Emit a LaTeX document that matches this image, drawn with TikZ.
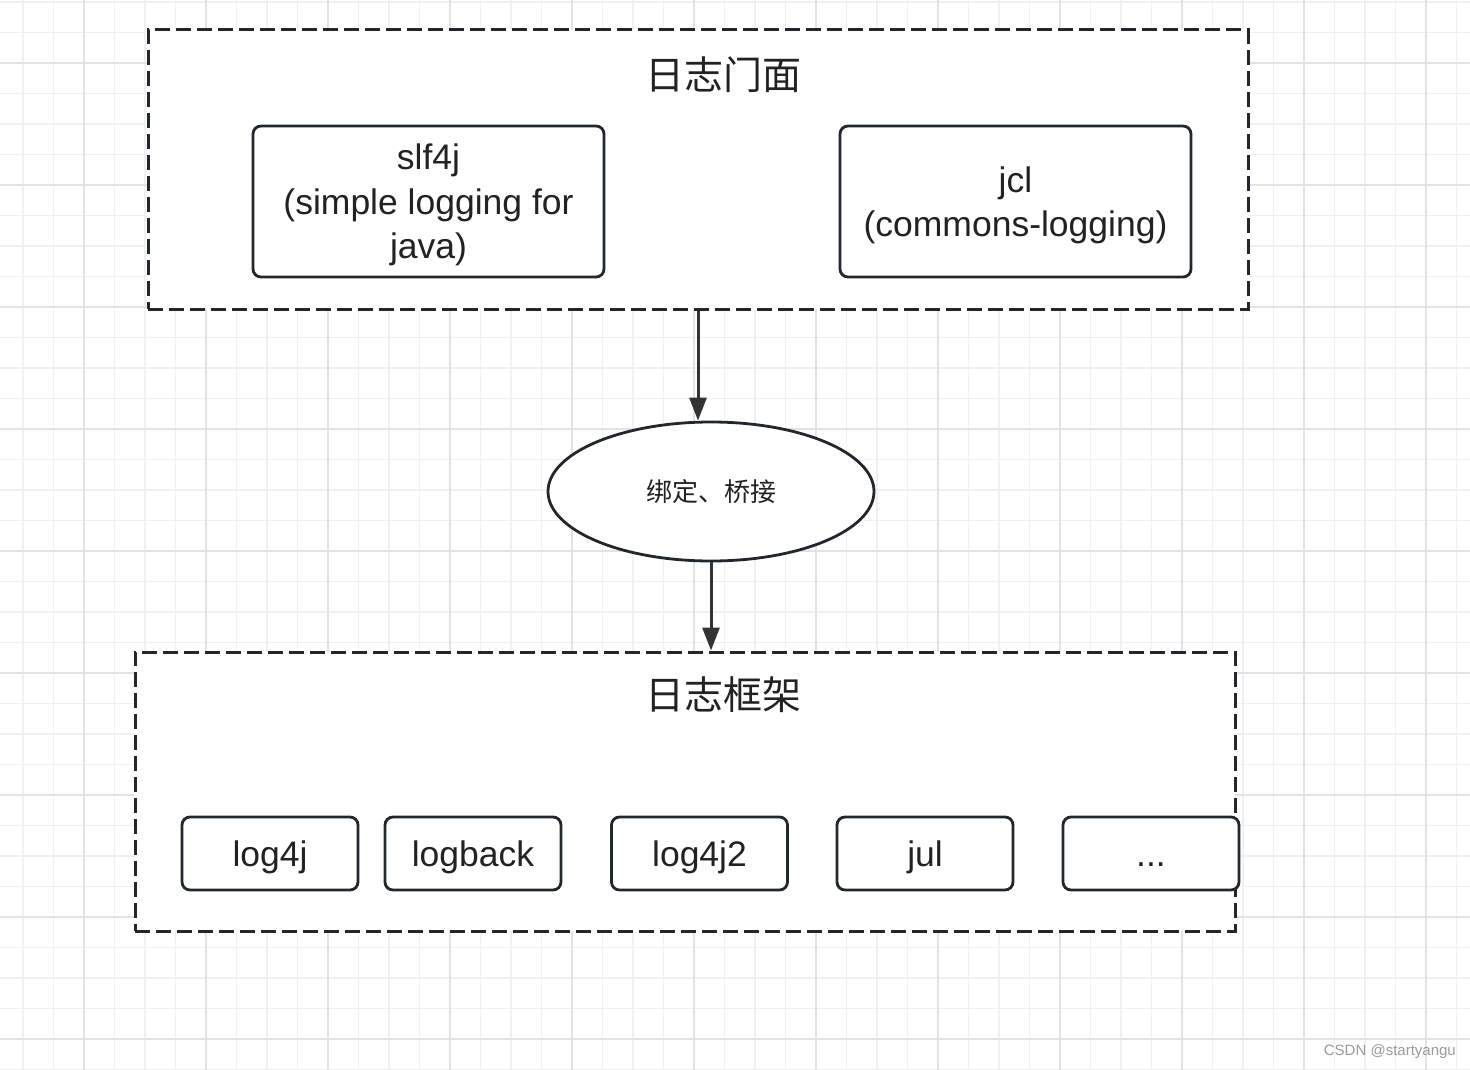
\documentclass[tikz,border=0pt]{standalone}
\usepackage{fontspec}
\setmainfont{Liberation Sans}
\newfontfamily\cjk{Noto Sans CJK SC}
\usetikzlibrary{arrows.meta,shapes.geometric}
\definecolor{minorgrid}{HTML}{F0F0F0}
\definecolor{majorgrid}{HTML}{E2E2E2}
\definecolor{edge}{HTML}{22272E}
\definecolor{ink}{HTML}{222222}
\definecolor{arrowc}{HTML}{333333}
\definecolor{wm}{HTML}{9A9A9A}
\begin{document}
\begin{tikzpicture}[x=1pt,y=-1pt,
  grp/.style={draw=edge,fill=white,line width=3pt,dash pattern=on 15pt off 6pt,minimum width=1100pt,minimum height=279pt,inner sep=0pt},
  title/.style={text=ink,font=\cjk\fontsize{39}{46}\selectfont,inner sep=0pt},
  rbox/.style={draw=edge,fill=white,line width=2.8pt,rounded corners=8pt,text=ink,align=center,inner sep=0pt,font=\fontsize{35.5}{44.5}\selectfont},
  topbox/.style={rbox,minimum width=351pt,minimum height=151pt,text depth=-1pt},
  lowbox/.style={rbox,minimum width=176pt,minimum height=73pt,text height=32pt,text depth=7pt},
  ell/.style={ellipse,draw=edge,fill=white,line width=2.8pt,minimum width=326pt,minimum height=139pt,inner sep=0pt,text=ink,font=\cjk\fontsize{26}{30}\selectfont},
  conn/.style={draw=arrowc,line width=3pt,-{Triangle[width=17pt,length=23pt]}}
]
\useasboundingbox (0,0) rectangle (1470,1070);
\fill[white] (0,0) rectangle (1470,1070);
% grid
\foreach \k in {0,...,47}{
  \draw[minorgrid,line width=1.3pt] ({23+30.5*\k},0) -- ({23+30.5*\k},1070);
}
\foreach \k in {0,...,35}{
  \draw[minorgrid,line width=1.3pt] (0,{2+30.5*\k}) -- (1470,{2+30.5*\k});
}
\foreach \k in {0,...,11}{
  \draw[majorgrid,line width=1.8pt] ({84+122*\k},0) -- ({84+122*\k},1070);
}
\foreach \k in {0,...,8}{
  \draw[majorgrid,line width=1.8pt] (0,{63+122*\k}) -- (1470,{63+122*\k});
}
% groups
\node[grp] (top) at (698,169.5) {};
\node[title] (toptitle) at (723,75) {日志门面};
\node[topbox] (slf) at (428.5,201.5) {slf4j\\(simple logging for\\java)};
\node[topbox] (jcl) at (1015.5,201.5) {jcl\\(commons-logging)};

\node[grp] (bot) at (685,791.5) {};
\node[title] (bottitle) at (723,695) {日志框架};
\node[lowbox] (l1) at (270,853.5) {log4j};
\node[lowbox] (l2) at (473,853.5) {logback};
\node[lowbox] (l3) at (699.5,853.5) {log4j2};
\node[lowbox] (l4) at (925,853.5) {jul};
\node[lowbox] (l5) at (1151,853.5) {...};

\node[ell] (bridge) at (711,491.5) {绑定、桥接};

\draw[conn] (top.south) -- (top.south |- bridge.north);
\draw[conn] (bridge.south) -- (bridge.south |- bot.north);

\node[anchor=east,text=wm,font=\fontsize{15}{18}\selectfont,inner sep=0pt] (wmark) at (1456,1052) {CSDN @startyangu};
\end{tikzpicture}
\end{document}
